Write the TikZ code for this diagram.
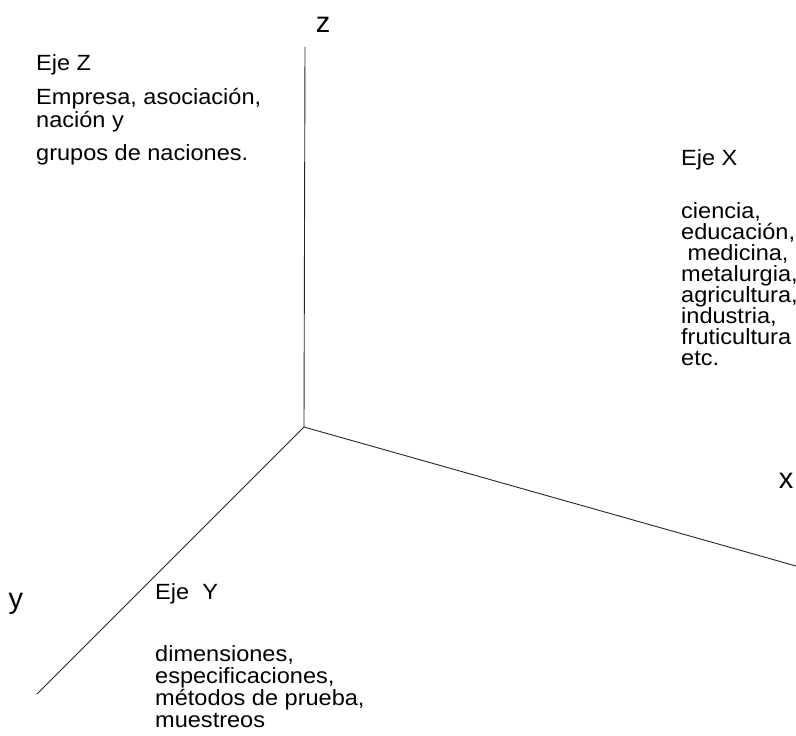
\documentclass[tikz,border=0pt]{standalone}
\usepackage{fontspec}
\setmainfont{Liberation Sans}[FakeStretch=1.07]
\newfontfamily\labelfont{Liberation Sans}
\begin{document}
\begin{tikzpicture}[x=1pt,y=-1pt,
  axisline/.style={line width=0.9pt,black!85},
  txt/.style={anchor=base west,inner sep=0pt,font=\fontsize{22}{24}\selectfont},
  axlabel/.style={inner sep=0pt,font=\labelfont\fontsize{29}{31}\selectfont}]
\useasboundingbox (0,0) rectangle (796,736);
% axes
\coordinate (O) at (304,427);
\coordinate (Zend) at (305,47);
\coordinate (Xend) at (796,566);
\coordinate (Yend) at (37,694);
\draw[axisline] (O) -- (Zend);
\draw[axisline] (O) -- (Xend);
\draw[axisline] (O) -- (Yend);
% axis labels
\node[axlabel] (lz) at (323,25) {z};
\node[axlabel] (lx) at (786,481) {x};
\node[axlabel] (ly) at (16,604) {y};
% Z block
\node[txt] (z1) at (36,70) {Eje Z};
\node[txt] (z2) at (36,104) {Empresa, asociación,};
\node[txt] (z3) at (36,127) {nación y};
\node[txt] (z4) at (36,160) {grupos de naciones.};
% X block
\node[txt] (x0) at (681,165) {Eje X};
\node[txt] (x1) at (681,218) {ciencia,};
\node[txt] (x2) at (681,239) {educación,};
\node[txt] (x3) at (681,260) {\ medicina,};
\node[txt] (x4) at (681,281) {metalurgia,};
\node[txt] (x5) at (681,302) {agricultura,};
\node[txt] (x6) at (681,323) {industria,};
\node[txt] (x7) at (681,344) {fruticultura};
\node[txt] (x8) at (681,365) {etc.};
% Y block
\node[txt] (y0) at (155,599) {Eje\ \ Y};
\node[txt] (y1) at (155,661) {dimensiones,};
\node[txt] (y2) at (155,683) {especificaciones,};
\node[txt] (y3) at (155,705) {métodos de prueba,};
\node[txt] (y4) at (155,727) {muestreos};
\end{tikzpicture}
\end{document}
